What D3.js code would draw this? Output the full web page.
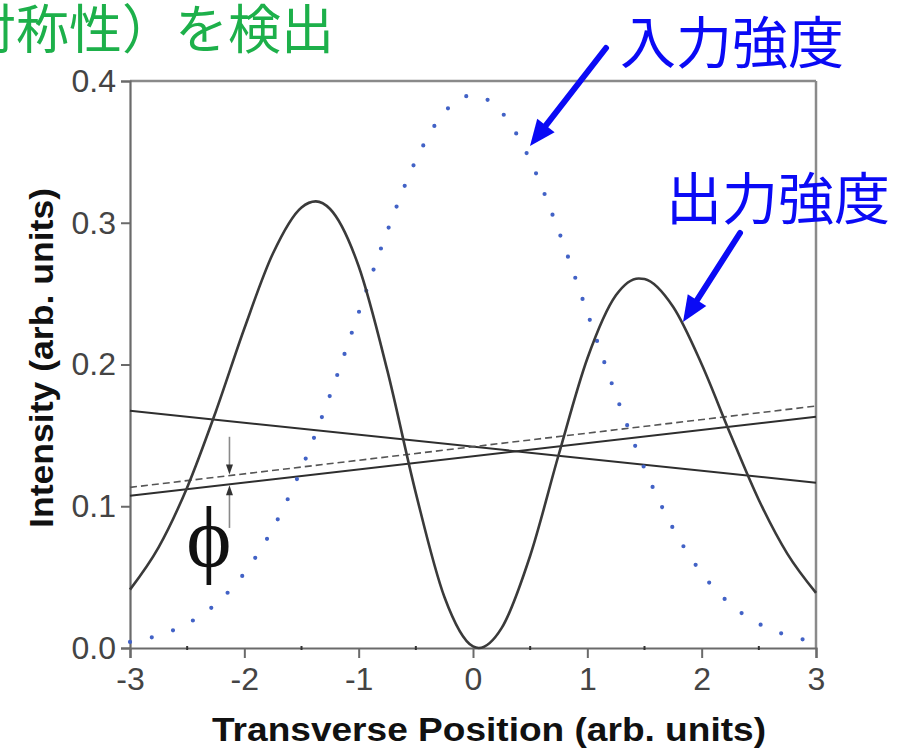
<!DOCTYPE html>
<html>
<head>
<meta charset="utf-8">
<script src="https://cdn.jsdelivr.net/npm/d3@7"></script>
<style>
  html, body { margin: 0; padding: 0; background: #fff; }
  svg { display: block; }
</style>
</head>
<body>
<svg id="chart" width="908" height="748"></svg>
<script>
// Transverse positions and intensity profiles
const inputX = [-3, -2.75, -2.5, -2.25, -2, -1.75, -1.5, -1.25, -1, -0.75, -0.5, -0.25, 0,
                 0.25, 0.5, 0.75, 1, 1.25, 1.5, 1.75, 2, 2.25, 2.5, 2.75, 3];
const inputIntensity = [0.0043, 0.0089, 0.0171, 0.031, 0.0528, 0.0844, 0.1266, 0.1785, 0.2365, 0.294, 0.344, 0.378, 0.39,
                        0.378, 0.344, 0.294, 0.2365, 0.1785, 0.1266, 0.0844, 0.0528, 0.031, 0.0171, 0.0089, 0.0043];

const outputX = [-3, -2.75, -2.5, -2.25, -2, -1.75, -1.5, -1.375, -1.25, -1, -0.75, -0.5, -0.25, 0, 0.05,
                 0.25, 0.5, 0.75, 1, 1.25, 1.45, 1.5, 1.75, 2, 2.25, 2.5, 2.75, 3];
const outputIntensity = [0.0412, 0.071, 0.1133, 0.1667, 0.2254, 0.2783, 0.3108, 0.3151, 0.3097, 0.2693, 0.196, 0.1093, 0.036, 0.0011, 0,
                         0.014, 0.0651, 0.1365, 0.2042, 0.2488, 0.2607, 0.2603, 0.2407, 0.2002, 0.1512, 0.1044, 0.0664, 0.0389];

// Straight reference lines (end points at x = -3 and x = 3)
const lineX = [-3, 3];
const fallingLine = [0.1674, 0.1166];
const risingLine = [0.1074, 0.1632];
const risingDashed = [0.1133, 0.1707];

// Position of the phase-offset marker and its arrow tails
const phiX = -2.13;
const phiArrowTop = 0.149;
const phiArrowBottom = 0.0847;

const xTicks = [-3, -2, -1, 0, 1, 2, 3];
const xMinorTicks = [-2.5, -1.5, -0.5, 0.5, 1.5, 2.5];
const yTicks = [0.0, 0.1, 0.2, 0.3, 0.4];

const svg = d3.select("#chart");
const margin = { left: 130, top: 81, right: 92, bottom: 100 };
const W = 908, H = 748;
const plotW = W - margin.left - margin.right;   // 686
const plotH = H - margin.top - margin.bottom;    // 567

const x = d3.scaleLinear().domain([-3, 3]).range([margin.left, margin.left + plotW]);
const y = d3.scaleLinear().domain([0, 0.4]).range([margin.top + plotH, margin.top]);

const axisColor = "#6a6a6a";
const sans = "Liberation Sans, Arial, Helvetica, sans-serif";

// Frame: top and right borders
svg.append("line").attr("x1", x(-3)).attr("x2", x(3)).attr("y1", y(0.4)).attr("y2", y(0.4))
  .attr("stroke", "#8a8a8a").attr("stroke-width", 2.5);
svg.append("line").attr("x1", x(3)).attr("x2", x(3)).attr("y1", y(0.4)).attr("y2", y(0))
  .attr("stroke", "#8a8a8a").attr("stroke-width", 2.5);

// Bottom axis
const xAxis = d3.axisBottom(x).tickValues(xTicks).tickSize(10).tickPadding(9).tickFormat(d => String(d));
const gx = svg.append("g").attr("transform", `translate(0,${y(0)})`).call(xAxis);
gx.select(".domain").attr("stroke", axisColor).attr("stroke-width", 2.2);
gx.selectAll(".tick line").attr("stroke", axisColor).attr("stroke-width", 2);
gx.selectAll(".tick text").attr("fill", "#444").attr("font-family", sans).attr("font-size", 32);

svg.append("g").selectAll("line").data(xMinorTicks).join("line")
  .attr("x1", d => x(d)).attr("x2", d => x(d))
  .attr("y1", y(0) - 2).attr("y2", y(0) + 2)
  .attr("stroke", "#333").attr("stroke-width", 2);

// Left axis
const yAxis = d3.axisLeft(y).tickValues(yTicks).tickSize(9).tickPadding(5).tickFormat(d3.format(".1f"));
const gy = svg.append("g").attr("transform", `translate(${x(-3)},0)`).call(yAxis);
gy.select(".domain").attr("stroke", axisColor).attr("stroke-width", 2.2);
gy.selectAll(".tick line").attr("stroke", axisColor).attr("stroke-width", 2);
gy.selectAll(".tick text").attr("fill", "#444").attr("font-family", sans).attr("font-size", 32);

// Axis titles
svg.append("text")
  .attr("x", 489).attr("y", 741)
  .attr("text-anchor", "middle")
  .attr("font-family", sans).attr("font-weight", "bold").attr("font-size", 34)
  .attr("fill", "#111")
  .attr("textLength", 554).attr("lengthAdjust", "spacingAndGlyphs")
  .text("Transverse Position (arb. units)");

svg.append("text")
  .attr("transform", "translate(53,358) rotate(-90)")
  .attr("text-anchor", "middle")
  .attr("font-family", sans).attr("font-weight", "bold").attr("font-size", 33)
  .attr("fill", "#111")
  .attr("textLength", 340).attr("lengthAdjust", "spacingAndGlyphs")
  .text("Intensity (arb. units)");

// Straight lines
const straight = d3.line().x(d => x(d[0])).y(d => y(d[1]));
svg.append("path").datum(d3.zip(lineX, fallingLine)).attr("d", straight)
  .attr("fill", "none").attr("stroke", "#2e2e2e").attr("stroke-width", 2);
svg.append("path").datum(d3.zip(lineX, risingLine)).attr("d", straight)
  .attr("fill", "none").attr("stroke", "#2e2e2e").attr("stroke-width", 2);
svg.append("path").datum(d3.zip(lineX, risingDashed)).attr("d", straight)
  .attr("fill", "none").attr("stroke", "#555").attr("stroke-width", 1.6)
  .attr("stroke-dasharray", "7,4");

// Input intensity: dotted blue profile
const smooth = d3.line().x(d => x(d[0])).y(d => y(d[1])).curve(d3.curveMonotoneX);
svg.append("path").datum(d3.zip(inputX, inputIntensity)).attr("d", smooth)
  .attr("fill", "none").attr("stroke", "#4262c6").attr("stroke-width", 4.2)
  .attr("stroke-linecap", "round").attr("stroke-dasharray", "0,22.3");

// Output intensity: solid profile
svg.append("path").datum(d3.zip(outputX, outputIntensity)).attr("d", smooth)
  .attr("fill", "none").attr("stroke", "#3a3a3a").attr("stroke-width", 2.6);

// Phase offset marker: two arrows pointing at the solid and dashed lines
const lineAt = (vals, xv) => vals[0] + (vals[1] - vals[0]) * (xv - lineX[0]) / (lineX[1] - lineX[0]);
const px = x(phiX);
const dashedY = y(lineAt(risingDashed, phiX));
const solidY = y(lineAt(risingLine, phiX));
svg.append("line").attr("x1", px).attr("x2", px).attr("y1", y(phiArrowTop)).attr("y2", dashedY - 8)
  .attr("stroke", "#8a8a8a").attr("stroke-width", 1.6);
svg.append("line").attr("x1", px).attr("x2", px).attr("y1", y(phiArrowBottom)).attr("y2", solidY + 8)
  .attr("stroke", "#8a8a8a").attr("stroke-width", 1.6);
svg.append("path")
  .attr("d", `M${px},${dashedY - 1} L${px - 3.5},${dashedY - 11} L${px + 3.5},${dashedY - 11} Z`)
  .attr("fill", "#333");
svg.append("path")
  .attr("d", `M${px},${solidY + 1} L${px - 3.5},${solidY + 11} L${px + 3.5},${solidY + 11} Z`)
  .attr("fill", "#333");
svg.append("text")
  .attr("x", 209).attr("y", 566)
  .attr("text-anchor", "middle")
  .attr("font-family", "Liberation Serif, Times New Roman, serif").attr("font-size", 86)
  .attr("fill", "#111")
  .text("ϕ");

// Heading text (runs past the left edge)
svg.append("text")
  .attr("x", 334).attr("y", 26)
  .attr("text-anchor", "end").attr("dominant-baseline", "central")
  .attr("font-family", "Noto Sans CJK JP, sans-serif").attr("font-size", 53)
  .attr("fill", "#1db04a")
  .text("対称性）を検出");

// Blue annotations with arrows
const blue = "#0a0af5";
svg.append("text")
  .attr("x", 620).attr("y", 38)
  .attr("dominant-baseline", "central")
  .attr("font-family", "Noto Sans CJK JP, sans-serif").attr("font-size", 56)
  .attr("fill", blue)
  .text("入力強度");
svg.append("text")
  .attr("x", 666).attr("y", 194)
  .attr("dominant-baseline", "central")
  .attr("font-family", "Noto Sans CJK JP, sans-serif").attr("font-size", 56)
  .attr("fill", blue)
  .text("出力強度");

function blueArrow(x1, y1, x2, y2) {
  const ang = Math.atan2(y2 - y1, x2 - x1);
  const headLen = 26, headHalf = 11;
  const bx = x2 - headLen * Math.cos(ang), by = y2 - headLen * Math.sin(ang);
  svg.append("line").attr("x1", x1).attr("y1", y1).attr("x2", bx).attr("y2", by)
    .attr("stroke", blue).attr("stroke-width", 6).attr("stroke-linecap", "round");
  const nx = -Math.sin(ang), ny = Math.cos(ang);
  svg.append("path")
    .attr("d", `M${x2},${y2} L${bx + nx * headHalf},${by + ny * headHalf} L${bx - nx * headHalf},${by - ny * headHalf} Z`)
    .attr("fill", blue);
}
blueArrow(606, 48, 530, 146);
blueArrow(740, 233, 683, 322);
</script>
</body>
</html>
